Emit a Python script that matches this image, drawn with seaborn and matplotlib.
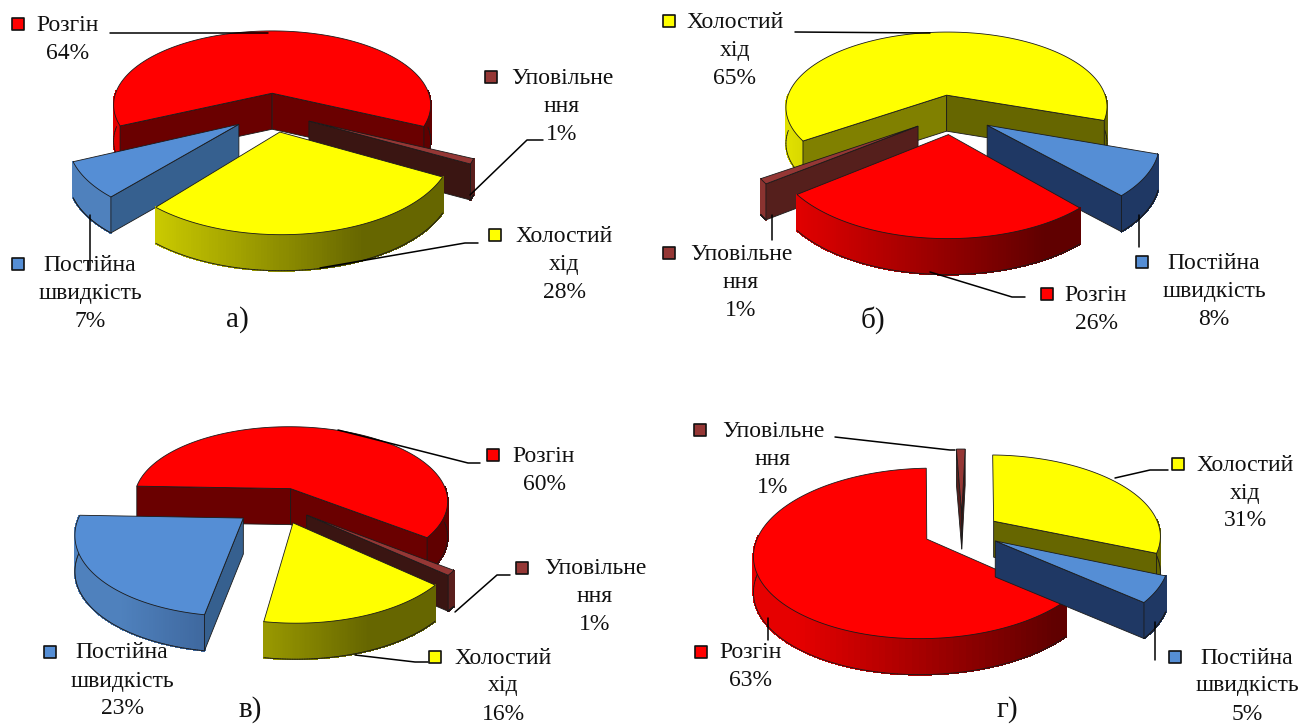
import numpy as np
import seaborn as sns
import matplotlib.pyplot as plt
from matplotlib.colors import to_rgb

sns.set_theme(style="white")
plt.rcParams['font.family'] = ['Liberation Serif', 'DejaVu Serif']

# %%
names = ["Розгін", "Уповільне\nння", "Холостий\nхід", "Постійна\nшвидкість"]
values_a = [64, 1, 28, 7]
values_b = [26, 1, 65, 8]
values_c = [60, 1, 16, 23]
values_d = [63, 1, 31, 5]
panel_names = ["а)", "б)", "в)", "г)"]

top_colors = ["#ff0000", "#953735", "#ffff00", "#558ed5"]
wall_left = ["#e60000", "#8a3330", "#e0e000", "#4f81bd"]
wall_right = ["#600000", "#5a1f1d", "#666600", "#1f3864"]
cut_right = ["#6a0000", "#3a1512", "#666600", "#1f3864"]
cut_left = ["#6a0000", "#551f1c", "#808000", "#36608f"]
marker_colors = ["#ff0000", "#953735", "#ffff00", "#558ed5"]

# layout of each pie: centre, radius, first angle, explosion of each slice
pies = [
    dict(values=values_a, cx=272, cy=112, r=163, start=205, explode=[.25, .25, .25, .25]),
    dict(values=values_b, cx=952, cy=114, r=165, start=-48, explode=[.25, .25, .25, .25]),
    dict(values=values_c, cx=279, cy=504, r=160, start=178, explode=[.22, .22, .25, .28]),
    dict(values=values_d, cx=962, cy=531, r=167, start=-41, explode=[.23, .23, .23, .23]),
]

# text blocks: panel -> category -> (centre x, first line y, marker x)
label_pos = [
    [(68, 25, 18), (562, 78, 491), (564, 236, 495), (90, 265, 18)],
    [(1096, 295, 1047), (741, 254, 669), (735, 22, 669), (1214, 263, 1142)],
    [(544, 456, 493), (595, 569, 522), (503, 658, 435), (122, 653, 50)],
    [(751, 653, 701), (773, 431, 700), (1245, 465, 1178), (1247, 658, 1175)],
]
leaders = [
    [[(110, 33), (268, 33)], [(470, 195), (527, 140), (543, 140)],
     [(320, 268), (465, 243), (478, 243)], [(90, 270), (90, 215)]],
    [[(930, 272), (1012, 297), (1025, 297)], [(772, 215), (772, 240)],
     [(795, 32), (930, 33)], [(1139, 215), (1139, 247)]],
    [[(338, 430), (468, 463), (480, 463)], [(455, 612), (497, 575), (510, 575)],
     [(355, 655), (415, 662), (428, 662)]],
    [[(768, 618), (768, 640)], [(835, 437), (950, 450), (955, 450)],
     [(1115, 478), (1150, 470), (1168, 470)], [(1155, 622), (1155, 660)]],
]
panel_pos = [(237, 320), (873, 320), (250, 710), (1007, 710)]

TILT = 0.48
PERSP = 0.165
DEPTH = 36
LINE = "#1a1a1a"


def project(pie, u, v):
    s = 1 / (1 + PERSP * v)
    return pie["cx"] + pie["r"] * u * s, pie["cy"] - pie["r"] * TILT * v * s


def mix(c1, c2, t):
    return tuple(a + (b - a) * t for a, b in zip(to_rgb(c1), to_rgb(c2)))


def draw_slice(ax, pie, i, a0, a1):
    # a0 is the higher angle, the slice runs clockwise down to a1
    mid = np.radians((a0 + a1) / 2)
    e = pie["explode"][i]
    ou, ov = e * np.cos(mid), e * np.sin(mid)
    th = np.radians(np.linspace(a0, a1, 120))
    x, y = project(pie, ou + np.cos(th), ov + np.sin(th))
    ax0, ay0 = project(pie, ou, ov)
    left = pie["cx"] - pie["r"]

    # outer wall, lit from the left of the whole pie
    for k in range(len(th) - 1):
        if np.sin((th[k] + th[k + 1]) / 2) >= 0.02:
            continue
        t = np.clip(((x[k] + x[k + 1]) / 2 - left) / (1.55 * pie["r"]), 0, 1)
        col = mix(wall_left[i], wall_right[i], t)
        ax.fill([x[k], x[k + 1], x[k + 1], x[k]],
                [y[k], y[k + 1], y[k + 1] + DEPTH, y[k] + DEPTH],
                facecolor=col, edgecolor=col, lw=0.8, antialiased=False, zorder=ax.z)
        ax.plot(x[k:k + 2], y[k:k + 2] + DEPTH, color=LINE, lw=0.6, zorder=ax.z + 0.1)
    ax.z += 1

    # cut faces that look towards the viewer
    for ang, px, py, seen in ((a0, x[0], y[0], np.cos(np.radians(a0)) < 0.02),
                              (a1, x[-1], y[-1], np.cos(np.radians(a1)) > -0.02)):
        if not seen:
            continue
        col = cut_right[i] if px > ax0 else cut_left[i]
        ax.fill([ax0, px, px, ax0], [ay0, py, py + DEPTH, ay0 + DEPTH],
                facecolor=col, edgecolor=LINE, lw=0.6, zorder=ax.z)
        ax.z += 1

    ax.fill(np.r_[ax0, x], np.r_[ay0, y], facecolor=top_colors[i],
            edgecolor=LINE, lw=0.6, zorder=ax.z)
    ax.z += 1


fig = plt.figure(figsize=(13.11, 7.25), dpi=100)
ax = fig.add_axes([0, 0, 1, 1])
ax.set_xlim(0, 1311)
ax.set_ylim(725, 0)
ax.axis("off")
ax.z = 2

for n, pie in enumerate(pies):
    angles = pie["start"] - np.cumsum([0] + pie["values"]) * 3.6
    order = []
    for i in range(4):
        mid = np.radians((angles[i] + angles[i + 1]) / 2)
        e = pie["explode"][i]
        _, apex_y = project(pie, e * np.cos(mid), e * np.sin(mid))
        order.append((apex_y, i))
    for _, i in sorted(order):
        draw_slice(ax, pie, i, angles[i], angles[i + 1])

    for i, (tx, ty, mx) in enumerate(label_pos[n]):
        lines = names[i].split("\n") + [f"{pie['values'][i]}%"]
        for k, line in enumerate(lines):
            ax.text(tx, ty + k * 28, line, ha="center", va="center", fontsize=17, color="#111111", zorder=500)
        ax.scatter([mx], [ty - 1], marker="s", s=70, facecolor=marker_colors[i],
                   edgecolor="#111111", linewidth=1.2, zorder=500)
    for path in leaders[n]:
        ax.plot(*zip(*path), color="black", lw=1.1, zorder=400)
    ax.text(*panel_pos[n], panel_names[n], ha="center", va="center", fontsize=21, color="#111111", zorder=500)

fig.savefig("out.png", dpi=100, facecolor="white")
